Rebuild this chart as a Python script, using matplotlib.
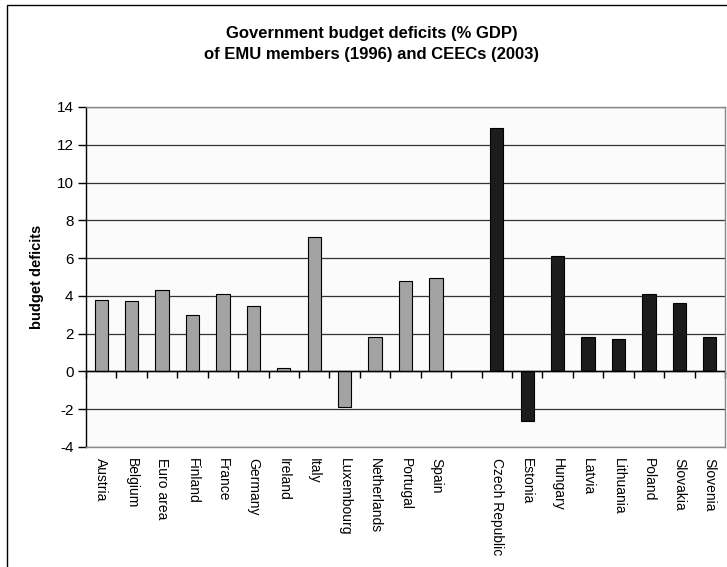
import matplotlib
matplotlib.use("Agg")
import matplotlib.pyplot as plt
from matplotlib.patches import Rectangle
import numpy as np

plt.rcParams['font.family'] = ['Liberation Sans', 'DejaVu Sans']

emu_names = ["Austria", "Belgium", "Euro area", "Finland", "France", "Germany",
             "Ireland", "Italy", "Luxembourg", "Netherlands", "Portugal", "Spain"]
emu_values = [3.8, 3.75, 4.3, 3.0, 4.1, 3.45, 0.2, 7.1, -1.9, 1.85, 4.8, 4.95]

ceec_names = ["Czech Republic", "Estonia", "Hungary", "Latvia", "Lithuania",
              "Poland", "Slovakia", "Slovenia"]
ceec_values = [12.9, -2.6, 6.1, 1.85, 1.7, 4.1, 3.65, 1.85]

yticks = [-4, -2, 0, 2, 4, 6, 8, 10, 12, 14]

title = "Government budget deficits (% GDP)\nof EMU members (1996) and CEECs (2003)"
ylabel = "budget deficits"

W, H = 727, 567
fig = plt.figure(figsize=(W / 100, H / 100), dpi=100)
fig.patch.set_facecolor('white')

# outer chart border (cropped at right/bottom)
fig.patches.append(Rectangle((7 / W, -0.1), 1.2, 1 - 4.5 / H + 0.1,
                             transform=fig.transFigure, fill=False,
                             edgecolor='#000000', linewidth=1.0))

left, right, top, bottom = 86, 725, 107, 447
ax = fig.add_axes([left / W, 1 - bottom / H, (right - left) / W, (bottom - top) / H])
ax.set_facecolor('#fbfbfb')

labels = emu_names + [""] + ceec_names
n_emu = len(emu_names)
x_emu = np.arange(n_emu)
x_ceec = np.arange(len(ceec_names)) + n_emu + 1
n = len(labels)

ax.bar(x_emu, emu_values, width=0.44, color='#a3a3a3', edgecolor='#000000',
       linewidth=0.8, zorder=3)
ax.bar(x_ceec, ceec_values, width=0.44, color='#1c1c1c', edgecolor='#000000',
       linewidth=0.8, zorder=3)

ax.set_xlim(-0.5, n - 0.5)
ax.set_ylim(yticks[0], yticks[-1])
ax.set_yticks(yticks)
ax.set_yticklabels([str(t) for t in yticks], fontsize=11)
ax.yaxis.grid(True, color='#333333', linewidth=0.9, zorder=1)
ax.set_axisbelow(True)
ax.tick_params(axis='y', direction='out', length=6, width=1, color='#000000', pad=3)

ax.set_xticks(np.arange(n))
ax.set_xticklabels(labels, rotation=270, fontsize=10, va='top', ha='center')
ax.tick_params(axis='x', length=0, pad=8)

for s in ['top', 'right', 'bottom']:
    ax.spines[s].set_color('#888888')
    ax.spines[s].set_linewidth(1.0)
ax.spines['left'].set_color('#000000')
ax.spines['left'].set_linewidth(1.0)

# zero line with category-boundary ticks
ax.axhline(0, color='#000000', linewidth=1.0, zorder=4)
sec = ax.secondary_xaxis(0, transform=ax.transData)
sec.set_xticks(np.arange(n + 1) - 0.5)
sec.tick_params(axis='x', direction='out', length=5, width=1, color='#000000',
                labelbottom=False)
sec.spines['bottom'].set_color('#000000')

ax.set_ylabel(ylabel, fontsize=10.5, fontweight='bold', labelpad=9)

fig.text(372 / W, 1 - 44 / H, title, ha='center', va='center', fontsize=12,
         fontweight='bold', linespacing=1.45)

fig.savefig("out.png", dpi=100)
